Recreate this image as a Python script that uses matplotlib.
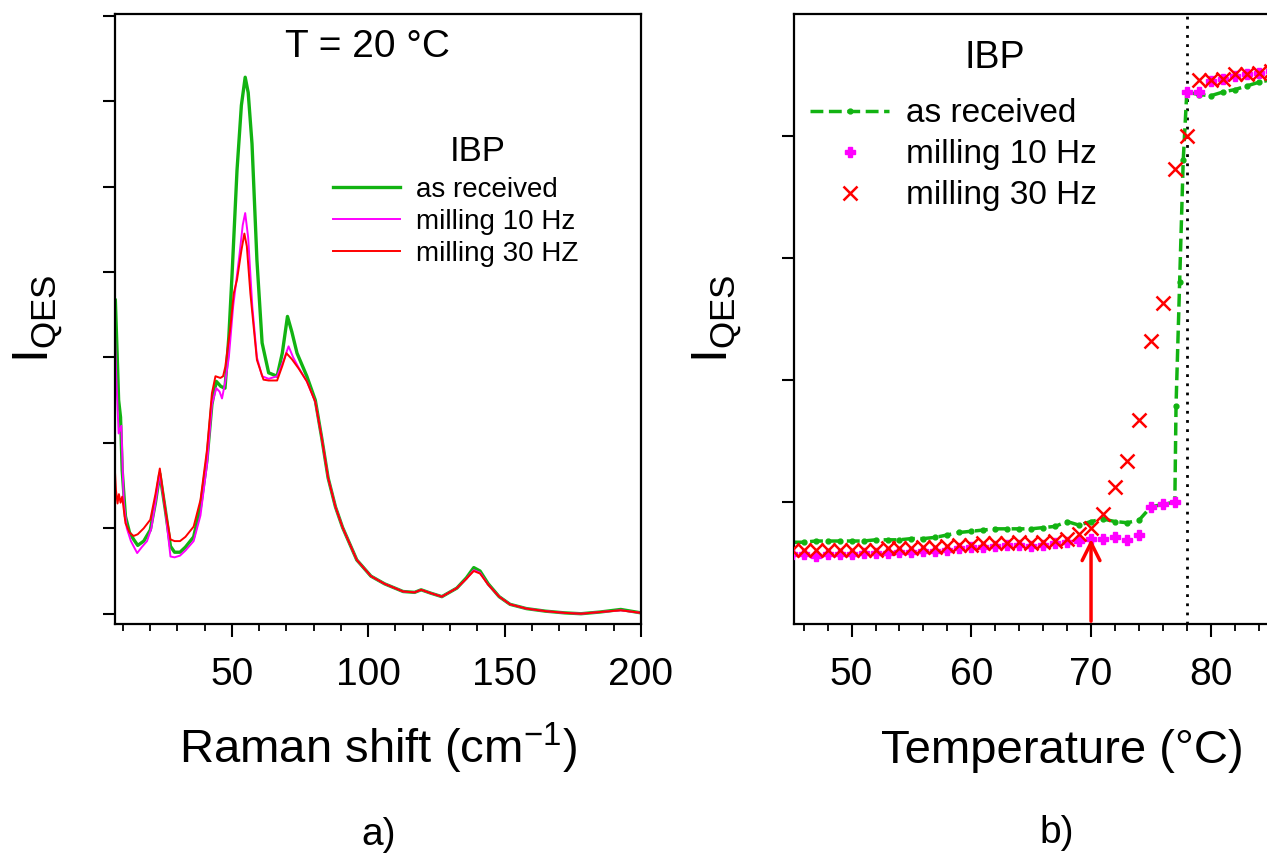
import matplotlib
matplotlib.use('Agg')
import matplotlib.pyplot as plt
from matplotlib.ticker import MultipleLocator

plt.rcParams['font.family'] = ['Liberation Sans', 'DejaVu Sans']
plt.rcParams['mathtext.default'] = 'regular'

# ---------------- Panel a) Raman spectra at 20 °C ----------------
raman_green_x = [7.3, 8.0, 8.5, 9.2, 9.8, 11, 12.5, 14, 15.5, 17.7, 20.1, 22, 23.6, 25.6, 27.5,
                 29, 31, 33, 36, 38.5, 40.9, 42.7, 44.3, 46, 47.5, 48.9, 50.1, 51.9, 53.5, 54.9,
                 56, 57.4, 59.2, 61.1, 63.5, 66.6, 68.5, 70.4, 72, 73.9, 77.5, 80.6, 83, 85.3,
                 88, 90.6, 95.8, 101, 106, 112.8, 117, 119.4, 123, 127, 132.5, 136, 138.7, 141,
                 144, 148, 152, 158, 165, 172, 178, 185, 192.6, 200]
raman_green_y = [3.67, 3.0, 2.50, 2.3, 1.68, 1.14, 0.95, 0.87, 0.80, 0.85, 0.98, 1.3, 1.64, 1.22,
                 0.79, 0.72, 0.72, 0.78, 0.90, 1.25, 1.80, 2.45, 2.72, 2.66, 2.64, 3.24, 3.98,
                 5.19, 5.95, 6.28, 6.1, 5.50, 4.14, 3.17, 2.82, 2.78, 3.05, 3.48, 3.3, 3.05,
                 2.78, 2.50, 2.05, 1.59, 1.25, 1.01, 0.63, 0.44, 0.35, 0.26, 0.25, 0.28, 0.24,
                 0.20, 0.30, 0.42, 0.54, 0.50, 0.35, 0.20, 0.11, 0.06, 0.03, 0.01, 0.0, 0.02,
                 0.05, 0.01]

raman_mag_x = [7.1, 7.6, 8.5, 9.5, 10.4, 11.5, 13, 15.3, 17, 18.9, 20.5, 22, 23.6, 25.6, 27.5,
               29, 31, 33, 36, 38.5, 40.9, 42.7, 44.3, 45.5, 46.4, 47.5, 48.9, 50.5, 52.8, 54.0,
               54.9, 56, 57.5, 59.2, 61.1, 63.5, 66.6, 68.8, 70.8, 72.5, 74.5, 77.5, 80.6, 83,
               85.3, 88, 90.6, 95.8, 101, 106, 112.8, 117, 119.4, 123, 127, 132.5, 136, 138.7,
               141, 144, 148, 152, 158, 165, 172, 178, 185, 192.6, 200]
raman_mag_y = [3.32, 2.8, 2.11, 2.2, 1.29, 1.0, 0.85, 0.71, 0.78, 0.85, 1.0, 1.3, 1.64, 1.22,
               0.67, 0.66, 0.68, 0.74, 0.85, 1.15, 1.75, 2.45, 2.64, 2.6, 2.52, 2.7, 3.0, 3.6,
               4.2, 4.55, 4.69, 4.4, 3.6, 3.0, 2.78, 2.75, 2.78, 2.95, 3.13, 3.0, 2.88, 2.72,
               2.48, 2.05, 1.59, 1.25, 1.01, 0.63, 0.44, 0.35, 0.26, 0.25, 0.28, 0.24, 0.20,
               0.30, 0.41, 0.51, 0.48, 0.34, 0.20, 0.11, 0.06, 0.03, 0.01, 0.0, 0.02, 0.04, 0.01]

raman_red_x = [7.1, 7.5, 8.1, 8.6, 9.2, 9.8, 11, 12.5, 14, 15.5, 17.7, 20.1, 22, 23.6, 25.6,
               27.5, 29, 31, 33, 36, 38.5, 40.9, 42.7, 44, 45.8, 46.8, 47.6, 49.5, 50.7, 51.9,
               53.5, 54.6, 55.5, 56.8, 59.2, 61.6, 63.5, 66.6, 68.5, 70, 72, 74.5, 77.5, 80.6,
               83, 85.3, 88, 90.6, 95.8, 101, 106, 112.8, 117, 119.4, 123, 127, 132.5, 136,
               138.7, 141, 144, 148, 152, 158, 165, 172, 178, 185, 192.6, 200]
raman_red_y = [1.70, 1.45, 1.29, 1.40, 1.30, 1.37, 1.06, 0.95, 0.91, 0.93, 1.00, 1.10, 1.4,
               1.70, 1.22, 0.87, 0.85, 0.85, 0.9, 1.02, 1.33, 1.92, 2.58, 2.78, 2.76, 2.78, 2.89,
               3.36, 3.75, 3.91, 4.25, 4.45, 4.3, 3.75, 2.97, 2.74, 2.73, 2.73, 2.9, 3.05, 2.98,
               2.87, 2.72, 2.48, 2.05, 1.59, 1.25, 1.01, 0.63, 0.44, 0.35, 0.26, 0.25, 0.28,
               0.24, 0.20, 0.30, 0.41, 0.50, 0.47, 0.34, 0.20, 0.11, 0.06, 0.03, 0.01, 0.0, 0.02,
               0.04, 0.01]

raman_labels = ['as received', 'milling 10 Hz', 'milling 30 HZ']

# ---------------- Panel b) QES intensity vs temperature ----------------
temp_green = [45, 46, 47, 48, 49, 50, 51, 52, 53, 54, 55, 56, 57, 58, 59, 60, 61, 62, 63, 64,
              65, 66, 67, 68, 69, 70, 71, 72, 73, 74, 75, 76, 77, 77.1, 77.4, 77.7, 78, 79, 80,
              81, 82, 83, 84, 85]
qes_green = [0.67, 0.67, 0.68, 0.68, 0.68, 0.68, 0.68, 0.69, 0.69, 0.69, 0.70, 0.70, 0.71,
             0.73, 0.75, 0.76, 0.77, 0.78, 0.78, 0.78, 0.78, 0.79, 0.80, 0.84, 0.81, 0.84, 0.86,
             0.84, 0.83, 0.85, 0.96, 0.98, 1.00, 1.79, 2.80, 3.80, 4.36, 4.34, 4.33, 4.36,
             4.38, 4.41, 4.44, 4.46]

temp_mag = [45, 46, 47, 48, 49, 50, 51, 52, 53, 54, 55, 56, 57, 58, 59, 60, 61, 62, 63, 64,
            65, 66, 67, 68, 69, 70, 71, 72, 73, 74, 75, 76, 77, 78, 79, 80, 81, 82, 83, 84, 85]
qes_mag = [0.57, 0.57, 0.56, 0.57, 0.57, 0.57, 0.58, 0.58, 0.58, 0.59, 0.59, 0.60, 0.60, 0.61,
           0.62, 0.63, 0.63, 0.64, 0.65, 0.65, 0.64, 0.65, 0.66, 0.67, 0.68, 0.70, 0.70, 0.71,
           0.69, 0.73, 0.96, 0.98, 1.00, 4.36, 4.36, 4.45, 4.47, 4.49, 4.51, 4.52, 4.53]

temp_red = [45, 46, 47, 48, 49, 50, 51, 52, 53, 54, 55, 56, 57, 58, 59, 60, 61, 62, 63, 64,
            65, 66, 67, 68, 69, 70, 71, 72, 73, 74, 75, 76, 77, 78, 79, 80, 81, 82, 83, 84, 85]
qes_red = [0.61, 0.61, 0.61, 0.61, 0.61, 0.61, 0.61, 0.61, 0.62, 0.62, 0.62, 0.63, 0.63, 0.64,
           0.65, 0.65, 0.66, 0.66, 0.66, 0.67, 0.66, 0.675, 0.68, 0.70, 0.74, 0.79, 0.90, 1.12,
           1.34, 1.67, 2.32, 2.63, 3.73, 4.00, 4.46, 4.46, 4.47, 4.51, 4.51, 4.52, 4.53]

qes_labels = ['as received', 'milling 10 Hz', 'milling 30 Hz']
temp_ticks = [50, 60, 70, 80]
melt_temp = 78
arrow_temp = 70
arrow_tip = 0.72

GREEN = '#12B312'
MAGENTA = '#FF00FF'
RED = '#FF0000'

fig = plt.figure(figsize=(12.67, 8.59), dpi=100)
ax1 = fig.add_axes([0.0904, 0.2736, 0.4155, 0.7101])
ax2 = fig.add_axes([0.6263, 0.2736, 0.4238, 0.7101])

TICK_FS = 28
LABEL_FS = 34

# ---- Panel a ----
ax1.plot(raman_green_x, raman_green_y, color=GREEN, lw=2.4, label=raman_labels[0])
ax1.plot(raman_mag_x, raman_mag_y, color=MAGENTA, lw=1.4, label=raman_labels[1])
ax1.plot(raman_red_x, raman_red_y, color=RED, lw=1.4, label=raman_labels[2])
ax1.set_xlim(7, 200)
ax1.set_ylim(-0.12, 7.02)
ax1.xaxis.set_major_locator(MultipleLocator(50))
ax1.xaxis.set_minor_locator(MultipleLocator(10))
ax1.yaxis.set_major_locator(MultipleLocator(1))
ax1.set_yticklabels([])
ax1.set_xlabel('Raman shift (cm$^{-1}$)', fontsize=LABEL_FS, labelpad=20)
ax1.set_ylabel('I$_{QES}$', fontsize=36, labelpad=12)
ax1.text(0.48, 0.946, 'T = 20 °C', transform=ax1.transAxes, ha='center', va='center',
         fontsize=28)
ax1.text(0.689, 0.774, 'IBP', transform=ax1.transAxes, ha='center', va='center', fontsize=25)
ax1.legend(loc='upper left', bbox_to_anchor=(0.415, 0.733), frameon=False, fontsize=20,
           handlelength=2.4, handletextpad=0.6, labelspacing=0.22, borderpad=0,
           borderaxespad=0)

# ---- Panel b ----
ax2.plot(temp_green, qes_green, color=GREEN, ls='--', lw=2.5, marker='o', ms=3.5,
         label=qes_labels[0], zorder=2)
ax2.plot(temp_mag, qes_mag, ls='none', marker='P', ms=7.5, color=MAGENTA, mec=MAGENTA,
         label=qes_labels[1], zorder=3)
ax2.plot(temp_red, qes_red, ls='none', marker='x', ms=10, mew=1.8, color=RED,
         label=qes_labels[2], zorder=4)
ax2.axvline(melt_temp, color='black', lw=2.0, ls=(0, (1, 2.3)), zorder=1)
ax2.annotate('', xy=(arrow_temp, arrow_tip), xytext=(arrow_temp, 0.0),
             arrowprops=dict(arrowstyle='->', color=RED, lw=2.5, mutation_scale=32))
ax2.set_xlim(45.15, 90)
ax2.set_ylim(0, 5)
ax2.set_xticks(temp_ticks)
ax2.xaxis.set_minor_locator(MultipleLocator(2))
ax2.set_yticks([1, 2, 3, 4])
ax2.set_yticklabels([])
ax2.set_xlabel('Temperature (°C)', fontsize=LABEL_FS, labelpad=26)
ax2.set_ylabel('I$_{QES}$', fontsize=36, labelpad=12)
ax2.text(0.375, 0.928, 'IBP', transform=ax2.transAxes, ha='center', va='center', fontsize=27)
ax2.legend(loc='upper left', bbox_to_anchor=(0.031, 0.862), frameon=False, fontsize=24,
           handlelength=2.36, handletextpad=0.5, labelspacing=0.3, borderpad=0,
           borderaxespad=0, numpoints=1)

for ax in (ax1, ax2):
    for sp in ax.spines.values():
        sp.set_linewidth(1.6)
    ax.tick_params(which='major', direction='out', length=9, width=1.5,
                   labelsize=TICK_FS, pad=15)
    ax.tick_params(which='minor', direction='out', length=5, width=1.3)
    ax.tick_params(axis='y', which='minor', left=False)

fig.text(379 / 1267, 1 - 835 / 859, 'a)', ha='center', va='center', fontsize=28)
fig.text(1057 / 1267, 1 - 833 / 859, 'b)', ha='center', va='center', fontsize=28)

fig.savefig('out.png', dpi=100)
